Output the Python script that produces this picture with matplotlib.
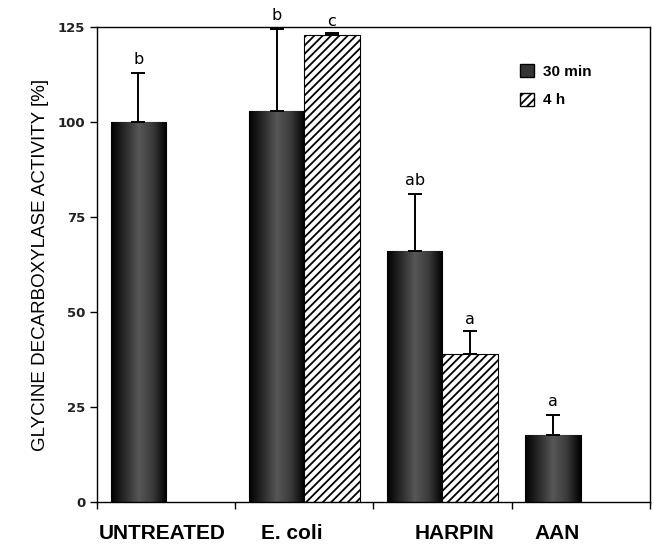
import numpy as np
import matplotlib
matplotlib.use("Agg")
import matplotlib.pyplot as plt
from matplotlib.patches import Patch
from matplotlib.colors import LinearSegmentedColormap

categories = ["UNTREATED", "E. coli", "HARPIN", "AAN"]
series_names = ["30 min", "4 h"]
vals_30min = [100, 103, 66, 17.5]
err_30min = [13, 21.5, 15, 5.5]
letters_30min = ["b", "b", "ab", "a"]
vals_4h = [None, 123, 39, None]
err_4h = [None, 0.4, 6, None]
letters_4h = [None, "c", "a", None]
yticks = [0, 25, 50, 75, 100, 125]

fig = plt.figure(figsize=(6.53, 5.46), dpi=100)
ax = fig.add_axes([0.1485, 0.0806, 0.8465, 0.87])

x = np.arange(len(categories))
w = 0.4
cmap = LinearSegmentedColormap.from_list("cyl", ["#000000", "#2a2a2a", "#575757", "#3a3a3a", "#000000"])
grad = np.linspace(0, 1, 256).reshape(1, -1)

for i, (v, e, lt) in enumerate(zip(vals_30min, err_30min, letters_30min)):
    bars = ax.bar(x[i] - w / 2, v, width=w, color="#333333", edgecolor="black", linewidth=0.8, zorder=2)
    p = bars[0]
    im = ax.imshow(grad, extent=[x[i] - w, x[i], 0, v], cmap=cmap, aspect="auto", zorder=2.5, interpolation="bicubic")
    im.set_clip_path(p)
    ax.errorbar(x[i] - w / 2, v, yerr=[[0], [e]], fmt="none", ecolor="black", elinewidth=1.4, capsize=5, capthick=1.4, zorder=3)
    ax.text(x[i] - w / 2, v + e + 1.5, lt, ha="center", va="bottom", fontsize=11.5, family="DejaVu Sans", zorder=4)

plt.rcParams["hatch.linewidth"] = 1.3
for i, (v, e, lt) in enumerate(zip(vals_4h, err_4h, letters_4h)):
    if v is None:
        continue
    ax.bar(x[i] + w / 2, v, width=w, color="white", edgecolor="black", hatch="////", linewidth=0.8, zorder=2)
    ax.errorbar(x[i] + w / 2, v, yerr=[[0], [e]], fmt="none", ecolor="black", elinewidth=1.4, capsize=5, capthick=1.4, zorder=3)
    ax.text(x[i] + w / 2, v + e + 1.0, lt, ha="center", va="bottom", fontsize=11.5, family="DejaVu Sans", zorder=4)

ax.set_xlim(-0.5, len(categories) - 0.5)
ax.set_ylim(0, 125)
ax.set_yticks(yticks)
ax.set_yticklabels([str(t) for t in yticks], fontsize=9.5, fontweight="bold", family="DejaVu Sans", color="#222222")
ax.tick_params(axis="y", direction="out", length=5, width=1.0)

# category boundaries as minor ticks, labels as major ticks
ax.set_xticks(np.arange(len(categories) + 1) - 0.5, minor=True)
label_pos = [-0.03, 0.91, 2.09, 2.83]
ax.set_xticks(label_pos)
ax.set_xticklabels(categories, fontsize=15, fontweight="bold", family="Liberation Sans")
ax.tick_params(axis="x", which="major", length=0, pad=16)
ax.tick_params(axis="x", which="minor", direction="out", length=5, width=1.0)

for s in ax.spines.values():
    s.set_linewidth(1.0)

ax.set_ylabel("GLYCINE DECARBOXYLASE ACTIVITY [%]", fontsize=13.5, family="Liberation Sans", labelpad=6)

handles = [Patch(facecolor="#333333", edgecolor="black", label=series_names[0]),
           Patch(facecolor="white", edgecolor="black", hatch="////", label=series_names[1])]
leg = ax.legend(handles=handles, loc="upper left", bbox_to_anchor=(0.74, 0.95), frameon=False,
                handlelength=0.9, handleheight=0.9, handletextpad=0.6, labelspacing=0.9,
                prop={"family": "Liberation Sans", "weight": "bold", "size": 11})

fig.savefig("out.png", dpi=100)
